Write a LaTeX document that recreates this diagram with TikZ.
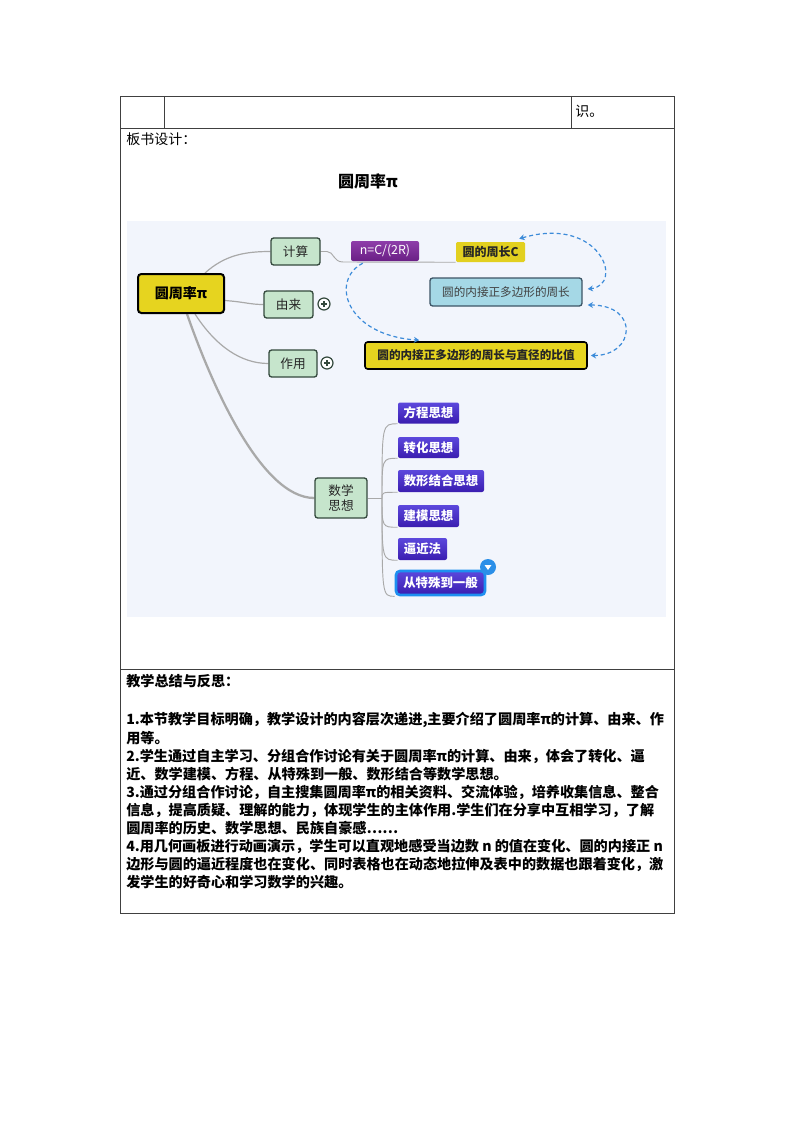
\documentclass[tikz,border=0pt]{standalone}
\usepackage{fontspec}
\newfontfamily\cjk{Noto Sans CJK SC}
\usetikzlibrary{arrows.meta,calc}
\pgfdeclarelayer{bg}
\pgfsetlayers{bg,main}
\definecolor{mapbg}{HTML}{F2F5FC}
\definecolor{myyellow}{HTML}{E6D41F}
\definecolor{topicgreen}{HTML}{C6E5CC}
\definecolor{topicborder}{HTML}{34493D}
\definecolor{purpletop}{HTML}{8E3DAA}
\definecolor{purplebot}{HTML}{6A1F85}
\definecolor{cyellow}{HTML}{E2D020}
\definecolor{lightblue}{HTML}{A5D8E6}
\definecolor{blueborder}{HTML}{3D5566}
\definecolor{thtop}{HTML}{5C48DC}
\definecolor{thbot}{HTML}{3A1DB0}
\definecolor{relblue}{HTML}{3C8BD9}
\definecolor{conngray}{HTML}{A9A9A9}
\definecolor{tblline}{HTML}{404040}
\definecolor{badgeblue}{HTML}{2B8FE8}
\definecolor{selblue}{HTML}{1E8FF0}
\tikzset{
  sz/.style 2 args={minimum width=#1*0.75pt, minimum height=#2*0.75pt},
  tbl/.style={draw=tblline, line width=0.65pt},
  txt/.style={anchor=west, inner sep=0pt, font=\cjk\fontsize{10.5}{12}\selectfont},
  rtxt/.style={anchor=west, inner sep=0pt, font=\cjk\bfseries\fontsize{10.6}{12}\selectfont},
  mainnode/.style={fill=myyellow, draw=black, line width=1.5pt, rounded corners=2.5pt, inner sep=0pt,
    font=\cjk\bfseries\fontsize{10.5}{12}\selectfont},
  topic/.style={fill=topicgreen, draw=topicborder, line width=1pt, rounded corners=2pt, inner sep=0pt,
    text=black!85, font=\cjk\fontsize{9.5}{11}\selectfont, align=center},
  purplebox/.style={top color=purpletop, bottom color=purplebot, rounded corners=1.5pt, inner sep=0pt,
    text=white, font=\cjk\fontsize{9.3}{10}\selectfont},
  cbox/.style={fill=cyellow, rounded corners=1pt, inner sep=0pt, text=black!85,
    font=\cjk\bfseries\fontsize{9}{10}\selectfont},
  polybox/.style={fill=lightblue, draw=blueborder, line width=1pt, rounded corners=2pt, inner sep=0pt,
    text=black!75, font=\cjk\fontsize{8.7}{10}\selectfont},
  ratiobox/.style={fill=myyellow, draw=black, line width=1.2pt, rounded corners=2pt, inner sep=0pt,
    text=black!85, font=\cjk\bfseries\fontsize{8.7}{10}\selectfont},
  thought/.style={top color=thtop, bottom color=thbot, rounded corners=1.5pt, inner sep=0pt,
    text=white, font=\cjk\bfseries\fontsize{9.3}{10}\selectfont},
  conn/.style={draw=conngray, line width=0.9pt},
  rel/.style={draw=relblue, line width=0.9pt, dash pattern=on 3pt off 2.2pt},
  plus/.style={circle, draw=topicborder, line width=0.9pt, fill=white, inner sep=0pt, minimum size=9pt,
    path picture={
      \draw[topicborder, line width=0.9pt] ($(path picture bounding box.center)+(-2.3pt,0)$) -- ++(4.6pt,0);
      \draw[topicborder, line width=0.9pt] ($(path picture bounding box.center)+(0,-2.3pt)$) -- ++(0,4.6pt);}},
}
\begin{document}
\begin{tikzpicture}[x=0.75pt,y=-0.75pt]
\useasboundingbox (0,0) rectangle (794,1123);
\begin{pgfonlayer}{bg}
\fill[white] (0,0) rectangle (794,1123);
\fill[mapbg] (127,221) rectangle (666,617);
\end{pgfonlayer}

% table
\draw[tbl] (120,96) rectangle (674,913);
\draw[tbl] (120,128) -- (674,128);
\draw[tbl] (120,669) -- (674,669);
\draw[tbl] (164,96) -- (164,128);
\draw[tbl] (571,96) -- (571,128);

\node[txt] (shi) at (575,111) {识。};
\node[txt] (bsh) at (126,139) {板书设计：};
\node[inner sep=0pt, font=\cjk\bfseries\fontsize{12}{14}\selectfont] (title) at (368,181) {圆周率π};

% nodes
\node[mainnode, sz={86}{39}] (main) at (181,293.5) {圆周率π};
\node[topic, sz={49}{27}] (calc) at (295.5,251.5) {计算};
\node[topic, sz={49}{27}] (yl) at (288.5,304.5) {由来};
\node[topic, sz={48}{27}] (zy) at (293,363.5) {作用};
\node[topic, sz={52}{40}] (sx) at (341,498) {数学\\思想};
\node[plus] (p1) at (324,304) {};
\node[plus] (p2) at (327,363) {};

\node[purplebox, sz={68}{20}] (nf) at (385,251) {n=C/(2R)};
\node[cbox, sz={69}{20}] (cC) at (490.5,252) {圆的周长C};
\node[polybox, sz={152}{28}] (poly) at (506,292) {圆的内接正多边形的周长};
\node[ratiobox, sz={222}{27}] (ratio) at (476,355.5) {圆的内接正多边形的周长与直径的比值};

\node[thought, sz={61}{21}] (t1) at (428.5,413) {方程思想};
\node[thought, sz={61}{21}] (t2) at (428.5,447.5) {转化思想};
\node[thought, sz={86}{22}] (t3) at (441,481) {数形结合思想};
\node[thought, sz={61}{22}] (t4) at (428.5,516) {建模思想};
\node[thought, sz={49}{22}] (t5) at (422.5,549) {逼近法};
\node[thought, draw=selblue, line width=2pt, rounded corners=3pt, sz={89}{24}] (t6) at (440.5,583) {从特殊到一般};
\node[circle, fill=badgeblue, inner sep=0pt, minimum size=12pt] (bd) at (488,567) {};
\fill[white] ($(bd.center)+(-3.5,-2)$) -- ($(bd.center)+(3.5,-2)$) -- ($(bd.center)+(0,3)$) -- cycle;

% connectors
\begin{pgfonlayer}{bg}
\draw[conn] ($(main.north east)+(-20,0)$) .. controls (225,255) and (245,251.5) .. (calc.west);
\draw[conn] ($(main.east)+(0,7)$) .. controls (245,302) and (250,304.5) .. (yl.west);
\draw[conn] ($(main.south)+(14,0)$) .. controls (215,345) and (240,363.5) .. (zy.west);
\draw[conn, line width=1.7pt] ($(main.south)+(6,0)$) .. controls (210,380) and (260,498) .. (sx.west);
\draw[conn, line width=0.7pt] (calc.east) -- (327,251.5) .. controls (334,251.5) and (333,262) .. (343,262) -- (cC.south west);
\coordinate (T) at (382,498);
\draw[conn, line width=0.7pt] (sx.east) -- (T);
\foreach \c in {t1,t2,t3,t4,t5,t6}{
  \draw[conn, line width=0.7pt] (T) .. controls (T |- \c.south west) .. (\c.south west);
}
\end{pgfonlayer}

% relationship arrows
\draw[rel, {Stealth[length=4pt,width=4.5pt]}-{Stealth[length=4pt,width=4.5pt]}]
  ($(cC.north east)+(-6,-3)$) .. controls (600,215) and (625,285) .. ($(poly.east)+(5,-3)$);
\draw[rel, {Stealth[length=4pt,width=4.5pt]}-{Stealth[length=4pt,width=4.5pt]}]
  ($(poly.east)+(5,13)$) .. controls (640,305) and (635,355.5) .. ($(ratio.east)+(3,0)$);
\draw[rel, -{Stealth[length=4pt,width=4.5pt]}]
  ($(nf.south west)+(12,2)$) .. controls (330,280) and (345,335) .. ($(ratio.north west)+(55,-1)$);

% reflection
\node[rtxt] (rh) at (126,681) {教学总结与反思：};
\node[rtxt] (r1) at (126,720) {1.本节教学目标明确，教学设计的内容层次递进,主要介绍了圆周率π的计算、由来、作};
\node[rtxt] (r2) at (126,738) {用等。};
\node[rtxt] (r3) at (126,756) {2.学生通过自主学习、分组合作讨论有关于圆周率π的计算、由来，体会了转化、逼};
\node[rtxt] (r4) at (126,774) {近、数学建模、方程、从特殊到一般、数形结合等数学思想。};
\node[rtxt] (r5) at (126,792) {3.通过分组合作讨论，自主搜集圆周率π的相关资料、交流体验，培养收集信息、整合};
\node[rtxt] (r6) at (126,810) {信息，提高质疑、理解的能力，体现学生的主体作用.学生们在分享中互相学习，了解};
\node[rtxt] (r7) at (126,828) {圆周率的历史、数学思想、民族自豪感……};
\node[rtxt] (r8) at (126,846) {4.用几何画板进行动画演示，学生可以直观地感受当边数 n 的值在变化、圆的内接正 n};
\node[rtxt] (r9) at (126,864) {边形与圆的逼近程度也在变化、同时表格也在动态地拉伸及表中的数据也跟着变化，激};
\node[rtxt] (r10) at (126,882) {发学生的好奇心和学习数学的兴趣。};
\end{tikzpicture}
\end{document}
